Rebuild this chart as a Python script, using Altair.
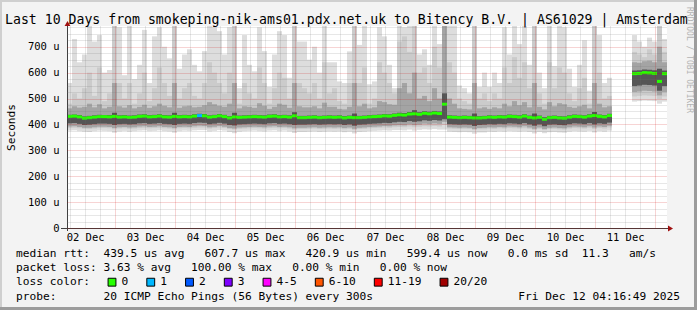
import altair as alt
import pandas as pd

FONT = "DejaVu Sans Mono"
NBSP = "\u00a0"

# ---------------- text content ----------------
TITLE = "Last 10 Days from smokeping-nik-ams01.pdx.net.uk to Bitency B.V. | AS61029 | Amsterdam"
Y_TITLE = "Seconds"
WATERMARK = "RRDTOOL / TOBI OETIKER"
day_labels = ["02 Dec", "03 Dec", "04 Dec", "05 Dec", "06 Dec",
              "07 Dec", "08 Dec", "09 Dec", "10 Dec", "11 Dec"]
y_tick_values = [0, 100, 200, 300, 400, 500, 600, 700]
y_tick_labels = ["0", "100 u", "200 u", "300 u", "400 u", "500 u", "600 u", "700 u"]
legend_line1 = "median rtt:  439.5 us avg   607.7 us max   420.9 us min   599.4 us now   0.0 ms sd  11.3   am/s"
legend_line2 = "packet loss: 3.63 % avg   100.00 % max   0.00 % min   0.00 % now"
legend_line3 = "loss color:"
legend_line4 = "probe:       20 ICMP Echo Pings (56 Bytes) every 300s"
timestamp = "Fri Dec 12 04:16:49 2025"
loss_labels = ["0", "1", "2", "3", "4-5", "6-10", "11-19", "20/20"]
loss_colors = ["#26ff00", "#00b8ff", "#0059ff", "#7e00ff", "#ff00ff", "#ff5500", "#ff0000", "#a10000"]

# ---------------- data (2-hour bins, 10 days, None = no data) ----------------
bin_hours = 2
median = [
    431, 432, 429, 424, 426, 428, 430, 430, 429, 431, 428, 429,
    427, 428, 431, 432, 429, 430, 432, 429, 428, 431, 429, 430,
    429, 432, 434, 433, 428, 430, 433, 430, 425, 429, 427, 428,
    429, 430, 429, 428, 431, 432, 429, 430, 428, 433, 426, 426,
    427, 428, 426, 427, 428, 427, 428, 425, 427, 426, 426, 427,
    429, 430, 431, 433, 432, 435, 437, 436, 440, 441, 439, 443,
    441, 444, 442, 478, 428, 427, 426, 427, 426, 425, 425, 426,
    428, 427, 429, 428, 431, 430, 428, 432, 427, 425, 427, 420,
    426, 427, 425, 424, 428, 431, 430, 428, 432, 434, 431, 429,
    434, None, None, None, None, 596, 597, 600, 599, 597, 566, 596,
]
loss_bins = {26: "1"}  # bins with packet loss (others: "0")

p_max = [
    560, 730, 640, 670, 780, 720, 745, 600, 610, 520, 775, 590,
    780, 575, 630, 765, 560, 740, 775, 700, 655, 720, 615, 670,
    690, 630, 605, 683, 780, 775, 760, 670, 775, 780, 540, 745,
    630, 605, 775, 683, 545, 670, 760, 745, 580, 780, 720, 720,
    650, 700, 600, 780, 640, 640, 566, 560, 682, 780, 707, 780,
    555, 566, 775, 740, 630, 540, 780, 775, 780, 680, 670, 690,
    630, 780, 710, 780, 780, 780, 550, 540, 520, 780, 545, 600,
    545, 600, 560, 775, 670, 780, 710, 780, 630, 780, 600, 540,
    780, 625, 780, 775, 615, 545, 630, 725, 530, 780, 745, 560,
    580, None, None, None, None, 745, 720, 700, 735, 720, 780, 730,
]
p_hi2 = [
    480, 520, 500, 540, 600, 510, 620, 490, 520, 780, 560, 500,
    560, 480, 520, 600, 490, 540, 620, 560, 510, 780, 500, 540,
    560, 510, 500, 560, 640, 600, 560, 520, 600, 780, 480, 560,
    520, 500, 620, 560, 480, 540, 600, 580, 500, 780, 560, 540,
    520, 560, 500, 640, 520, 540, 490, 480, 560, 780, 560, 620,
    480, 500, 640, 600, 560, 520, 720, 740, 680, 780, 600, 620,
    560, 700, 620, 780, 640, 600, 500, 490, 480, 780, 500, 520,
    490, 520, 500, 620, 560, 660, 580, 640, 540, 780, 520, 480,
    640, 540, 620, 600, 520, 490, 540, 580, 480, 780, 600, 500,
    510, None, None, None, None, 680, 670, 660, 690, 670, 780, 680,
]
p_hi4 = [
    462, 470, 465, 468, 480, 466, 478, 462, 468, 560, 470, 465,
    474, 462, 468, 476, 464, 470, 480, 472, 466, 560, 464, 470,
    472, 466, 468, 474, 486, 478, 472, 468, 480, 560, 462, 470,
    468, 464, 482, 472, 460, 468, 480, 476, 464, 560, 470, 466,
    466, 470, 462, 484, 468, 468, 460, 458, 468, 560, 470, 480,
    462, 466, 490, 486, 478, 476, 540, 560, 520, 600, 500, 510,
    490, 540, 500, 780, 500, 480, 462, 460, 458, 560, 462, 466,
    460, 466, 462, 480, 470, 490, 474, 486, 466, 560, 468, 458,
    486, 470, 482, 478, 468, 464, 470, 476, 462, 560, 480, 466,
    470, None, None, None, None, 640, 638, 644, 646, 640, 700, 640,
]
p_hi7 = [
    437, 438, 436, 431, 433, 435, 437, 436, 436, 445, 435, 436,
    434, 435, 438, 439, 436, 437, 439, 436, 435, 445, 436, 437,
    436, 439, 441, 440, 435, 437, 440, 437, 432, 445, 434, 435,
    436, 437, 436, 435, 438, 439, 436, 437, 435, 447, 433, 433,
    434, 435, 433, 434, 435, 434, 435, 432, 434, 442, 433, 434,
    436, 437, 438, 440, 439, 442, 445, 444, 448, 455, 447, 451,
    449, 452, 450, 520, 435, 434, 433, 434, 433, 442, 432, 433,
    435, 434, 436, 435, 438, 437, 435, 439, 434, 442, 434, 428,
    433, 434, 432, 431, 435, 438, 437, 435, 439, 448, 438, 436,
    441, None, None, None, None, 608, 609, 612, 611, 609, 615, 608,
]
p_lo7 = [
    404, 405, 402, 398, 399, 401, 403, 403, 402, 398, 401, 402,
    400, 401, 404, 405, 402, 403, 405, 402, 401, 398, 402, 403,
    402, 405, 407, 406, 401, 403, 406, 403, 398, 396, 400, 401,
    402, 403, 402, 401, 404, 405, 402, 403, 401, 398, 399, 399,
    400, 401, 399, 400, 401, 400, 401, 398, 400, 395, 399, 400,
    402, 403, 404, 406, 405, 408, 410, 409, 413, 410, 412, 416,
    414, 417, 415, 420, 401, 400, 399, 400, 399, 394, 398, 399,
    401, 400, 402, 401, 404, 403, 401, 405, 400, 395, 400, 393,
    399, 400, 398, 397, 401, 404, 403, 401, 405, 400, 404, 402,
    407, None, None, None, None, 548, 550, 553, 552, 550, 530, 548,
]
p_lo4 = [
    392, 393, 390, 387, 387, 389, 391, 391, 390, 386, 389, 390,
    388, 389, 392, 393, 390, 391, 393, 390, 389, 386, 390, 391,
    390, 393, 395, 394, 389, 391, 394, 391, 386, 384, 388, 389,
    390, 391, 390, 389, 392, 393, 390, 391, 389, 385, 387, 387,
    388, 389, 387, 388, 389, 388, 389, 386, 388, 383, 387, 388,
    390, 391, 392, 394, 393, 396, 397, 396, 400, 397, 399, 403,
    401, 404, 402, 410, 389, 388, 387, 388, 387, 382, 386, 387,
    389, 388, 390, 389, 392, 391, 389, 393, 388, 383, 388, 382,
    387, 388, 386, 385, 389, 392, 391, 389, 393, 388, 392, 390,
    395, None, None, None, None, 525, 527, 530, 529, 527, 512, 525,
]
p_lo2 = [
    386, 387, 385, 383, 382, 384, 386, 386, 385, 381, 384, 385,
    383, 384, 386, 387, 385, 386, 387, 385, 384, 381, 385, 386,
    385, 387, 388, 388, 384, 386, 388, 386, 382, 380, 383, 384,
    385, 386, 385, 384, 386, 387, 385, 386, 384, 380, 382, 382,
    383, 384, 382, 383, 384, 383, 384, 381, 383, 378, 382, 383,
    385, 386, 387, 388, 387, 389, 390, 389, 392, 389, 391, 393,
    392, 394, 392, 398, 384, 383, 382, 383, 382, 378, 381, 381,
    384, 383, 385, 384, 386, 385, 384, 385, 383, 378, 383, 378,
    382, 383, 381, 380, 384, 386, 385, 384, 387, 382, 386, 384,
    388, None, None, None, None, 508, 510, 512, 511, 510, 498, 508,
]
p_min = [
    376, 377, 374, 372, 371, 374, 376, 375, 374, 368, 373, 375,
    372, 374, 376, 377, 374, 375, 377, 374, 373, 368, 374, 376,
    375, 377, 378, 378, 373, 375, 378, 376, 371, 366, 372, 374,
    375, 376, 374, 373, 376, 377, 374, 376, 373, 367, 371, 371,
    372, 373, 371, 372, 373, 372, 373, 370, 372, 365, 371, 372,
    374, 375, 376, 377, 376, 378, 378, 377, 380, 376, 379, 381,
    380, 382, 380, 380, 372, 371, 370, 371, 370, 364, 369, 369,
    372, 371, 373, 372, 374, 373, 372, 373, 371, 365, 371, 366,
    370, 371, 369, 368, 372, 374, 373, 372, 375, 369, 374, 372,
    376, None, None, None, None, 488, 490, 492, 491, 490, 480, 488,
]

band_names = ["p1-p20", "p2-p19", "p4-p17", "p7-p14"]
band_colors = ["#dddddd", "#cbcbcb", "#a4a4a4", "#555555"]
band_series = [(p_min, p_max), (p_lo2, p_hi2), (p_lo4, p_hi4), (p_lo7, p_hi7)]

# ---------------- build tables ----------------
smoke_rows = []
for name, (lo, hi) in zip(band_names, band_series):
    for i, (a, b) in enumerate(zip(lo, hi)):
        if a is None or b is None:
            continue
        smoke_rows.append({"t0": i * bin_hours, "t1": (i + 1) * bin_hours,
                           "lo": a, "hi": b, "band": name})
smoke_df = pd.DataFrame(smoke_rows)

med_rows = []
for i, m in enumerate(median):
    if m is None:
        continue
    med_rows.append({"t0": i * bin_hours, "t1": (i + 1) * bin_hours,
                     "med": m, "loss": loss_bins.get(i, "0")})
med_df = pd.DataFrame(med_rows)

# ---------------- layout ----------------
W, H = 600, 202
OX, OY = 67, 26            # plot origin inside the 697x310 canvas
HOURS = 240
FIRST_MIDNIGHT = 19.25     # hours from start to 03 Dec 00:00
grid_x = [FIRST_MIDNIGHT - 18 + 6 * k for k in range(40)]
noon_vals = [FIRST_MIDNIGHT - 12 + 24 * d for d in range(len(day_labels))]

RED = "rgba(205,0,0,0.34)"
GRAY = "rgba(110,110,110,0.34)"

x_scale = alt.Scale(domain=[0, HOURS], nice=False, zero=False)
y_scale = alt.Scale(domain=[0, 780], nice=False, zero=True)

x_axis = alt.Axis(
    values=grid_x, grid=True, ticks=False, domain=False, title=None,
    gridColor={"condition": {"test": f"(datum.value - {FIRST_MIDNIGHT}) % 24 == 0", "value": RED}, "value": GRAY},
    gridDash=[1, 1], gridWidth=1,
    labelExpr=f"indexof({noon_vals}, datum.value) >= 0 ? {day_labels}[indexof({noon_vals}, datum.value)] : ''",
    labelFont=FONT, labelFontSize=10.5, labelColor="#000", labelPadding=4,
    labelAngle=0, labelOverlap=False, labelFlush=False, labelBound=False, zindex=1,
)
y_axis = alt.Axis(
    values=list(range(0, 776, 25)), grid=True, ticks=False, domain=False,
    gridColor={"condition": {"test": "datum.value % 100 == 0", "value": RED}, "value": GRAY},
    gridDash=[1, 1], gridWidth=1,
    labelExpr=f"indexof({y_tick_values}, datum.value) >= 0 ? {y_tick_labels}[indexof({y_tick_values}, datum.value)] : ''",
    labelFont=FONT, labelFontSize=10.5, labelColor="#000", labelPadding=8,
    labelOverlap=False, labelBound=False,
    title=Y_TITLE, titleFont=FONT, titleFontSize=11.2, titleFontWeight="normal",
    titleColor="#000", titleX=11 - OX, titleY=H / 2, titleAngle=270,
    titleAlign="center", titleBaseline="middle", zindex=1,
)

smoke = alt.Chart(smoke_df).mark_rect(clip=True).encode(
    x=alt.X("t0:Q", scale=x_scale, axis=x_axis),
    x2="t1:Q",
    y=alt.Y("lo:Q", scale=y_scale, axis=y_axis),
    y2="hi:Q",
    color=alt.Color("band:N", scale=alt.Scale(domain=band_names, range=band_colors), legend=None),
)

med_line = alt.Chart(med_df).mark_rule(strokeWidth=3, clip=True).encode(
    x=alt.X("t0:Q", scale=x_scale, axis=x_axis),
    x2="t1:Q",
    y=alt.Y("med:Q", scale=y_scale, axis=y_axis),
    stroke=alt.Stroke("loss:N", scale=alt.Scale(domain=loss_labels, range=loss_colors), legend=None),
)

one = pd.DataFrame({"k": [0]})


def text_layer(s, x, y, size=11.2, align="left", color="#000", angle=0, baseline="alphabetic"):
    s = s.replace(" ", NBSP)
    return alt.Chart(pd.DataFrame({"t": [s]})).mark_text(
        align=align, baseline=baseline, font=FONT, fontSize=size, color=color, angle=angle
    ).encode(x=alt.value(x - OX), y=alt.value(y - OY), text="t:N")


def rule_layer(x, y, x2=None, y2=None, color="#404040", width=1):
    enc = {"x": alt.value(x - OX), "y": alt.value(y - OY)}
    if x2 is not None:
        enc["x2"] = alt.value(x2 - OX)
    if y2 is not None:
        enc["y2"] = alt.value(y2 - OY)
    return alt.Chart(one).mark_rule(color=color, strokeWidth=width).encode(**enc)


layers = [smoke, med_line]

# axis lines with arrow heads
layers.append(rule_layer(61, 228.5, x2=669))
layers.append(rule_layer(67.5, 22, y2=231))
layers.append(alt.Chart(one).mark_point(shape="triangle-up", filled=True, color="#a01010", size=34, opacity=1)
              .encode(x=alt.value(67.5 - OX), y=alt.value(23.5 - OY)))
layers.append(alt.Chart(one).mark_point(shape="triangle-right", filled=True, color="#a01010", size=34, opacity=1)
              .encode(x=alt.value(670.5 - OX), y=alt.value(228.5 - OY)))

# title, watermark, legend text
layers.append(text_layer(TITLE, 5, 23.5, size=13.2))
layers.append(text_layer(WATERMARK, 689, 60, size=8, color="#b4b4b4", angle=90,
                         align="center", baseline="middle"))
layers.append(text_layer(legend_line1, 16, 257))
layers.append(text_layer(legend_line2, 16, 271.2))
layers.append(text_layer(legend_line3, 16, 285.4))
layers.append(text_layer(legend_line4, 16, 299.6))
layers.append(text_layer(timestamp, 680, 299.6, align="right"))

# loss colour legend boxes
CHAR_W = 6.75
cx = 112.0
for lab, col in zip(loss_labels, loss_colors):
    layers.append(alt.Chart(one).mark_square(size=62, fill=col, stroke="#000", strokeWidth=1, opacity=1)
                  .encode(x=alt.value(cx - OX), y=alt.value(282.2 - OY)))
    layers.append(text_layer(lab, cx + 9.5, 285.4))
    cx += 10 + CHAR_W * len(lab) + 22

# image frame
layers.append(rule_layer(0, 1, x2=697, color="#cfcfcf", width=2))
layers.append(rule_layer(1, 0, y2=310, color="#cfcfcf", width=2))
layers.append(rule_layer(0, 308.5, x2=697, color="#9c9c9c", width=3))
layers.append(rule_layer(695.5, 0, y2=310, color="#9c9c9c", width=3))

chart = alt.layer(*layers).resolve_scale(color="independent", stroke="independent").properties(
    width=W, height=H,
    background="#f3f3f3",
    padding={"left": OX, "top": OY, "right": 697 - OX - W, "bottom": 310 - OY - H},
    autosize=alt.AutoSizeParams(type="none"),
).configure_view(stroke=None, fill="white")

chart.save("out.html", embed_options={"renderer": "svg", "actions": False})
